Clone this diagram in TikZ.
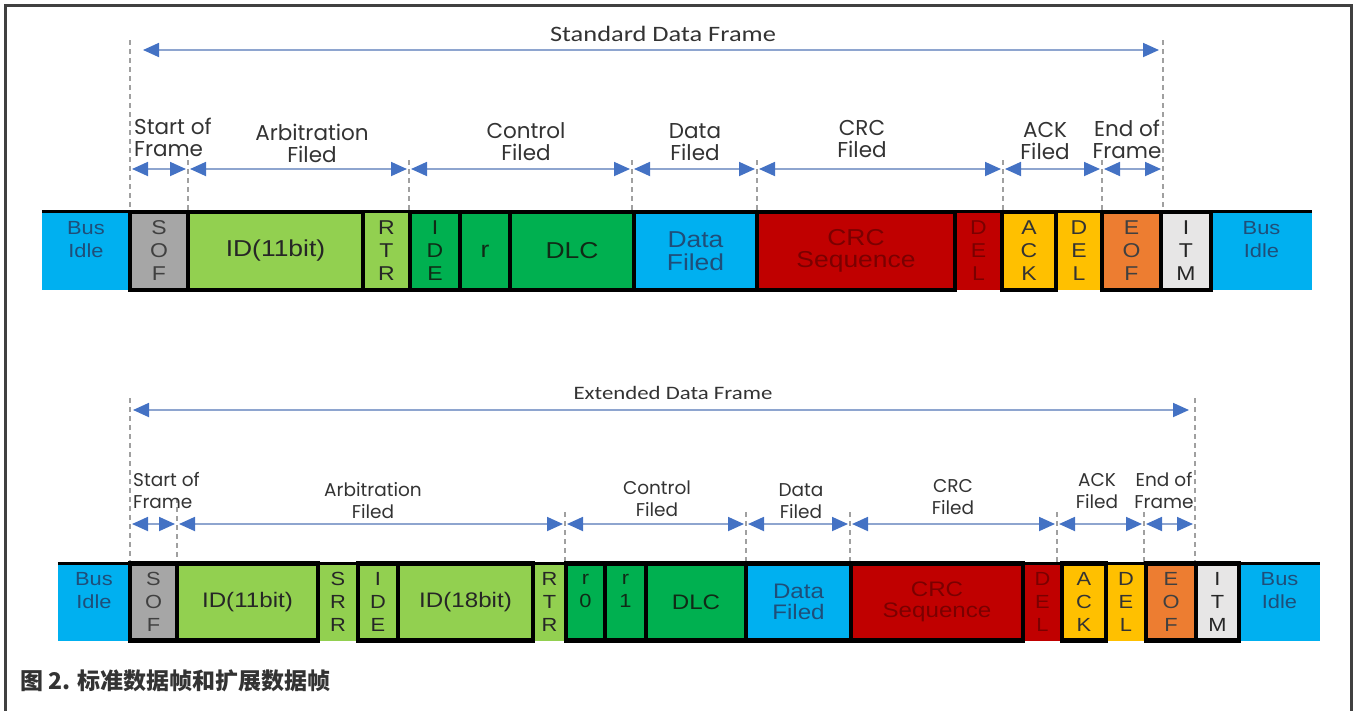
\documentclass[tikz,border=0pt]{standalone}
\usepackage{fontspec}
\usetikzlibrary{arrows.meta}
\newfontfamily\boxf[FakeStretch=1.15]{Liberation Sans}
\newfontfamily\lblf{Poppins}
\newfontfamily\ttlf[FakeStretch=1.2]{Carlito}
\newfontfamily\cjk{Noto Sans CJK SC}
\definecolor{cyanbox}{HTML}{00B0F0}
\definecolor{sofgray}{HTML}{A6A6A6}
\definecolor{lgreen}{HTML}{92D050}
\definecolor{dgreen}{HTML}{00B050}
\definecolor{crcred}{HTML}{C00000}
\definecolor{ackyel}{HTML}{FFC000}
\definecolor{eoforg}{HTML}{ED7D31}
\definecolor{itmgray}{HTML}{E7E6E6}
\definecolor{idleblue}{HTML}{1F4E79}
\definecolor{darkred}{HTML}{7A0000}
\definecolor{darkgreen}{HTML}{102A16}
\definecolor{labelgray}{HTML}{333333}
\definecolor{dashgray}{HTML}{A0A0A0}
\definecolor{spanline}{HTML}{8EA5CF}
\definecolor{headblue}{HTML}{4472C4}
\definecolor{framegray}{HTML}{404040}
\newcommand\fieldcell[7]{\node[cell,#6,minimum width={(#3-#2)*1pt},minimum height={#5*1pt}] (#1) at ({(#2+#3)/2},#4) {#7};}
\begin{document}
\begin{tikzpicture}[x=1pt,y=-1pt,
  cell/.style={inner sep=0pt, align=center, anchor=center},
  bord/.style={draw=black, line width=4.5pt},
  vlet/.style={font=\boxf\fontsize{20}{23}\selectfont},
  vletb/.style={font=\boxf\fontsize{19}{23}\selectfont},
  bigt/.style={font=\boxf\fontsize{23}{22.5}\selectfont},
  bigb/.style={font=\boxf\fontsize{21}{21.5}\selectfont},
  idle/.style={fill=cyanbox, text=idleblue, font=\boxf\fontsize{19}{23}\selectfont},
  flbl/.style={font=\lblf\fontsize{21.5}{22}\selectfont, text=labelgray, align=center, inner sep=0pt},
  flblb/.style={font=\lblf\fontsize{18.5}{22}\selectfont, text=labelgray, align=center, inner sep=0pt},
  dashln/.style={draw=dashgray, line width=1.4pt, dash pattern=on 5pt off 4pt},
  span/.style={draw=spanline, line width=1.8pt, >={Triangle[length=16pt,width=14pt,color=headblue]}, <->, shorten >=2pt, shorten <=2pt},
  mainspan/.style={draw=spanline, line width=1.8pt, >={Triangle[length=16pt,width=14pt,color=headblue]}, <->}
]
\useasboundingbox (0,0) rectangle (1354,710);
\draw[framegray, line width=3pt] (5,712) -- (5,5) -- (1351,5) -- (1351,712);

% ---------------- Standard data frame ----------------
\node[font=\ttlf\fontsize{22}{24}\selectfont, text=labelgray] (stdt) at (663,34) {Standard Data Frame};
\coordinate (stl) at (143,50);
\coordinate (str) at (1159,50);
\draw[mainspan] (stl) -- (str);
\foreach \x in {130,1163} \draw[dashln] (\x,40) -- (\x,210);
\foreach \x in {188,409,632,757,1003,1102} \draw[dashln] (\x,160) -- (\x,210);

\node[flbl, align=left, anchor=west] (l1) at (134,137) {Start of\\Frame};
\node[flbl] (l2) at (312,143) {Arbitration\\Filed};
\node[flbl] (l3) at (526,142) {Control\\Filed};
\node[flbl] (l4) at (695,142) {Data\\Filed};
\node[flbl] (l5) at (862,139) {CRC\\Filed};
\node[flbl] (l6) at (1045,141) {ACK\\Filed};
\node[flbl] (l7) at (1127,139) {End of\\Frame};

\coordinate (ta0) at (130,169);
\coordinate (ta1) at (188,169);
\coordinate (ta2) at (409,169);
\coordinate (ta3) at (632,169);
\coordinate (ta4) at (757,169);
\coordinate (ta5) at (1003,169);
\coordinate (ta6) at (1102,169);
\coordinate (ta7) at (1163,169);
\draw[span] (ta0) -- (ta1);
\draw[span] (ta1) -- (ta2);
\draw[span] (ta2) -- (ta3);
\draw[span] (ta3) -- (ta4);
\draw[span] (ta4) -- (ta5);
\draw[span] (ta5) -- (ta6);
\draw[span] (ta6) -- (ta7);

% unbordered cells
\fieldcell{bi1}{42}{130}{251}{78}{idle}{Bus\\Idle\\\phantom{I}}
\fieldcell{rtr1}{363}{410}{251}{78}{fill=lgreen, text=black!85, vlet}{R\\T\\R}
\fieldcell{dela1}{955}{1002}{251}{78}{fill=crcred, text=darkred, vlet}{D\\E\\L}
\fieldcell{delb1}{1056}{1102}{251}{78}{fill=ackyel, text=black!80, vlet}{D\\E\\L}
\fieldcell{bi2}{1211}{1312}{251}{78}{idle}{Bus\\Idle\\\phantom{I}}
\draw[line width=4.5pt] (rtr1.south west) -- (rtr1.south east);
\draw[line width=3pt] (bi1.north west) -- (bi2.north east);
% bordered cells
\fieldcell{sof1}{130}{188}{251}{78}{bord, fill=sofgray, text=black!75, vlet}{S\\O\\F}
\fieldcell{id1}{188}{363}{251}{78}{bord, fill=lgreen, text=black!85, bigt}{ID(11bit)}
\fieldcell{ide1}{410}{460}{251}{78}{bord, fill=dgreen, text=darkgreen, vlet}{I\\D\\E}
\fieldcell{r1}{460}{510}{251}{78}{bord, fill=dgreen, text=darkgreen, bigt}{r}
\fieldcell{dlc1}{510}{634}{251}{78}{bord, fill=dgreen, text=darkgreen, bigt}{DLC}
\fieldcell{dat1}{634}{757}{251}{78}{bord, fill=cyanbox, text=idleblue, bigt}{Data\\Filed}
\fieldcell{crc1}{757}{955}{251}{78}{bord, fill=crcred, text=darkred, bigt}{CRC\\Sequence}
\fieldcell{ack1}{1002}{1056}{251}{78}{bord, fill=ackyel, text=black!80, vlet}{A\\C\\K}
\fieldcell{eof1}{1102}{1161}{251}{78}{bord, fill=eoforg, text=black!75, vlet}{E\\O\\F}
\fieldcell{itm1}{1161}{1211}{251}{78}{bord, fill=itmgray, text=black!85, vlet}{I\\T\\M}

% ---------------- Extended data frame ----------------
\node[font=\ttlf\fontsize{19}{22}\selectfont, text=labelgray] (extt) at (673,393) {Extended Data Frame};
\coordinate (etl) at (133,410);
\coordinate (etr) at (1189,410);
\draw[mainspan] (etl) -- (etr);
\foreach \x in {130,1195} \draw[dashln] (\x,398) -- (\x,562);
\draw[dashln] (177,498) -- (177,562);
\foreach \x in {565,746,850,1057,1144} \draw[dashln] (\x,512) -- (\x,562);

\node[flblb, align=left, anchor=west] (m1) at (133,491) {Start of\\Frame};
\node[flblb] (m2) at (373,501) {Arbitration\\Filed};
\node[flblb] (m3) at (657,499) {Control\\Filed};
\node[flblb] (m4) at (801,501) {Data\\Filed};
\node[flblb] (m5) at (953,497) {CRC\\Filed};
\node[flblb] (m6) at (1097,491) {ACK\\Filed};
\node[flblb] (m7) at (1164,491) {End of\\Frame};

\coordinate (ea0) at (130,524);
\coordinate (ea1) at (177,524);
\coordinate (ea2) at (565,524);
\coordinate (ea3) at (746,524);
\coordinate (ea4) at (850,524);
\coordinate (ea5) at (1057,524);
\coordinate (ea6) at (1144,524);
\coordinate (ea7) at (1195,524);
\draw[span] (ea0) -- (ea1);
\draw[span] (ea1) -- (ea2);
\draw[span] (ea2) -- (ea3);
\draw[span] (ea3) -- (ea4);
\draw[span] (ea4) -- (ea5);
\draw[span] (ea5) -- (ea6);
\draw[span] (ea6) -- (ea7);

% unbordered cells
\fieldcell{bi3}{58}{130}{602}{77}{idle}{Bus\\Idle\\\phantom{I}}
\fieldcell{srr}{318}{358}{602}{77}{fill=lgreen, text=black!85, vletb}{S\\R\\R}
\fieldcell{rtr2}{533}{566}{602}{77}{fill=lgreen, text=black!85, vletb}{R\\T\\R}
\fieldcell{dela2}{1023}{1062}{602}{77}{fill=crcred, text=darkred, vletb}{D\\E\\L}
\fieldcell{delb2}{1106}{1146}{602}{77}{fill=ackyel, text=black!80, vletb}{D\\E\\L}
\fieldcell{bi4}{1239}{1320}{602}{77}{idle}{Bus\\Idle\\\phantom{I}}
\draw[line width=3pt] (bi3.north west) -- (bi4.north east);
% bordered cells
\fieldcell{sof2}{130}{177}{602}{77}{bord, fill=sofgray, text=black!75, vletb}{S\\O\\F}
\fieldcell{id2}{177}{318}{602}{77}{bord, fill=lgreen, text=black!85, bigb}{ID(11bit)}
\fieldcell{ide2}{358}{398}{602}{77}{bord, fill=lgreen, text=black!85, vletb}{I\\D\\E}
\fieldcell{id3}{398}{533}{602}{77}{bord, fill=lgreen, text=black!85, bigb}{ID(18bit)}
\fieldcell{rz}{566}{605}{602}{77}{bord, fill=dgreen, text=darkgreen, vletb}{r\\0\\\phantom{0}}
\fieldcell{ro}{605}{646}{602}{77}{bord, fill=dgreen, text=darkgreen, vletb}{r\\1\\\phantom{1}}
\fieldcell{dlc2}{646}{746}{602}{77}{bord, fill=dgreen, text=darkgreen, bigb}{DLC}
\fieldcell{dat2}{746}{851}{602}{77}{bord, fill=cyanbox, text=idleblue, bigb}{Data\\Filed}
\fieldcell{crc2}{851}{1023}{602}{77}{bord, fill=crcred, text=darkred, bigb}{CRC\\Sequence}
\fieldcell{ack2}{1062}{1106}{602}{77}{bord, fill=ackyel, text=black!80, vletb}{A\\C\\K}
\fieldcell{eof2}{1146}{1196}{602}{77}{bord, fill=eoforg, text=black!75, vletb}{E\\O\\F}
\fieldcell{itm2}{1196}{1239}{602}{77}{bord, fill=itmgray, text=black!85, vletb}{I\\T\\M}

% caption
\node[anchor=west, inner sep=0pt, font=\cjk\bfseries\fontsize{23}{26}\selectfont, text=labelgray] (cap) at (20,681) {图 2. 标准数据帧和扩展数据帧};
\end{tikzpicture}
\end{document}
